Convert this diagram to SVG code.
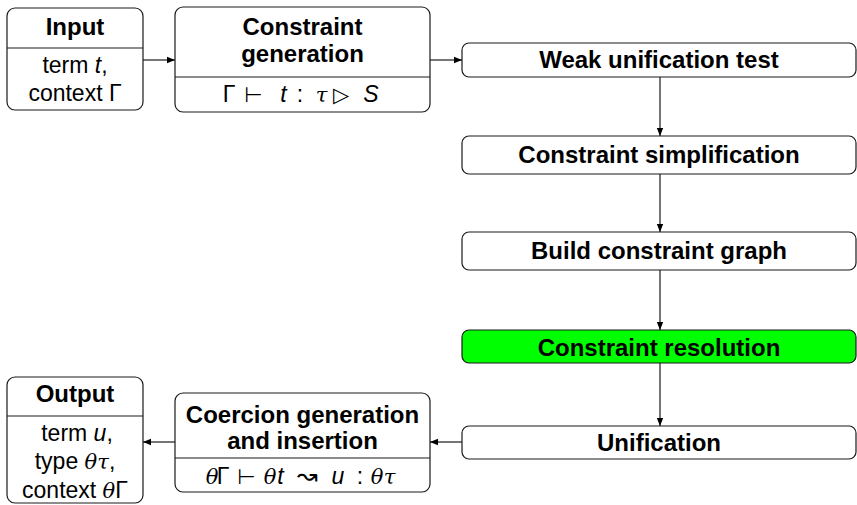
<svg xmlns="http://www.w3.org/2000/svg" width="857" height="505" viewBox="0 0 857 505">
  <defs>
    <marker id="arrow" viewBox="0 0 10 10" refX="10" refY="5" markerWidth="8" markerHeight="8" markerUnits="userSpaceOnUse" orient="auto">
      <path d="M0,1 L10,5 L0,9 Z" fill="#000"/>
    </marker>
  </defs>
  <style>
    .box { fill: #fff; stroke: #1a1a1a; stroke-width: 1.2; }
    .hl { fill: #00ff00; }
    .sep { stroke: #1a1a1a; stroke-width: 1.2; }
    .edge { stroke: #1a1a1a; stroke-width: 1.2; fill: none; marker-end: url(#arrow); }
    text { font-family: "Liberation Sans", Arial, sans-serif; font-size: 23px; fill: #000; text-anchor: middle; }
    .b { font-weight: bold; font-size: 24px; }
    .it { font-style: italic; }
    .gr { font-family: "DejaVu Serif", "Liberation Serif", serif; font-style: italic; font-size: 21px; }
    .sym { font-family: "DejaVu Sans", sans-serif; font-size: 21px; }
    .wave { font-family: "DejaVu Sans", sans-serif; font-size: 25px; }
  </style>

  <g id="input">
    <rect class="box" x="7" y="8" width="136" height="102" rx="8"/>
    <line class="sep" x1="7" y1="48" x2="143" y2="48"/>
    <text class="b" x="75" y="35">Input</text>
    <text x="75" y="73">term <tspan class="it">t</tspan>,</text>
    <text x="75" y="101">context Γ</text>
  </g>

  <g id="constraint-generation">
    <rect class="box" x="175" y="7" width="255" height="105" rx="8"/>
    <line class="sep" x1="175" y1="77" x2="430" y2="77"/>
    <text class="b" x="302.5" y="35">Constraint</text>
    <text class="b" x="302.5" y="62">generation</text>
    <text y="102"><tspan x="229">Γ</tspan><tspan class="sym" x="253.5">⊢</tspan><tspan class="it" x="283.5">t</tspan><tspan x="300">:</tspan><tspan class="gr" x="321.5">τ</tspan><tspan class="sym" x="341">▷</tspan><tspan class="it" x="371">S</tspan></text>
  </g>

  <g id="weak-unification">
    <rect class="box" x="462" y="43" width="394" height="34" rx="7"/>
    <text class="b" x="659" y="68">Weak unification test</text>
  </g>

  <g id="simplification">
    <rect class="box" x="462" y="136" width="394" height="38" rx="7"/>
    <text class="b" x="659" y="163">Constraint simplification</text>
  </g>

  <g id="build-graph">
    <rect class="box" x="462" y="232" width="394" height="38" rx="7"/>
    <text class="b" x="659" y="259">Build constraint graph</text>
  </g>

  <g id="resolution">
    <rect class="box hl" x="462" y="330" width="394" height="33" rx="7"/>
    <text class="b" x="659" y="356">Constraint resolution</text>
  </g>

  <g id="unification">
    <rect class="box" x="462" y="426" width="394" height="33" rx="7"/>
    <text class="b" x="659" y="451">Unification</text>
  </g>

  <g id="coercion">
    <rect class="box" x="175" y="393" width="255" height="99" rx="8"/>
    <line class="sep" x1="175" y1="458" x2="430" y2="458"/>
    <text class="b" x="302.5" y="423">Coercion generation</text>
    <text class="b" x="302.5" y="449">and insertion</text>
    <text y="484"><tspan class="gr" x="212">θ</tspan><tspan x="223">Γ</tspan><tspan class="sym" x="246.5">⊢</tspan><tspan class="gr" x="270">θ</tspan><tspan class="it" x="280.5">t</tspan><tspan class="wave" x="307.5">↝</tspan><tspan class="it" x="338">u</tspan><tspan x="360">:</tspan><tspan class="gr" x="377">θ</tspan><tspan class="gr" x="389.5">τ</tspan></text>
  </g>

  <g id="output">
    <rect class="box" x="7" y="377" width="136" height="126" rx="8"/>
    <line class="sep" x1="7" y1="416" x2="143" y2="416"/>
    <text class="b" x="75" y="402">Output</text>
    <text x="77" y="441">term <tspan class="it">u</tspan>,</text>
    <text x="75" y="469">type <tspan class="gr">θτ</tspan>,</text>
    <text x="75" y="498">context <tspan class="gr">θ</tspan>Γ</text>
  </g>

  <g id="connectors">
    <line class="edge" x1="143" y1="60" x2="175" y2="60"/>
    <line class="edge" x1="430" y1="60" x2="462" y2="60"/>
    <line class="edge" x1="660" y1="77" x2="660" y2="136"/>
    <line class="edge" x1="660" y1="174" x2="660" y2="232"/>
    <line class="edge" x1="660" y1="270" x2="660" y2="330"/>
    <line class="edge" x1="660" y1="363" x2="660" y2="426"/>
    <line class="edge" x1="462" y1="442" x2="430" y2="442"/>
    <line class="edge" x1="175" y1="442" x2="143" y2="442"/>
  </g>
</svg>
